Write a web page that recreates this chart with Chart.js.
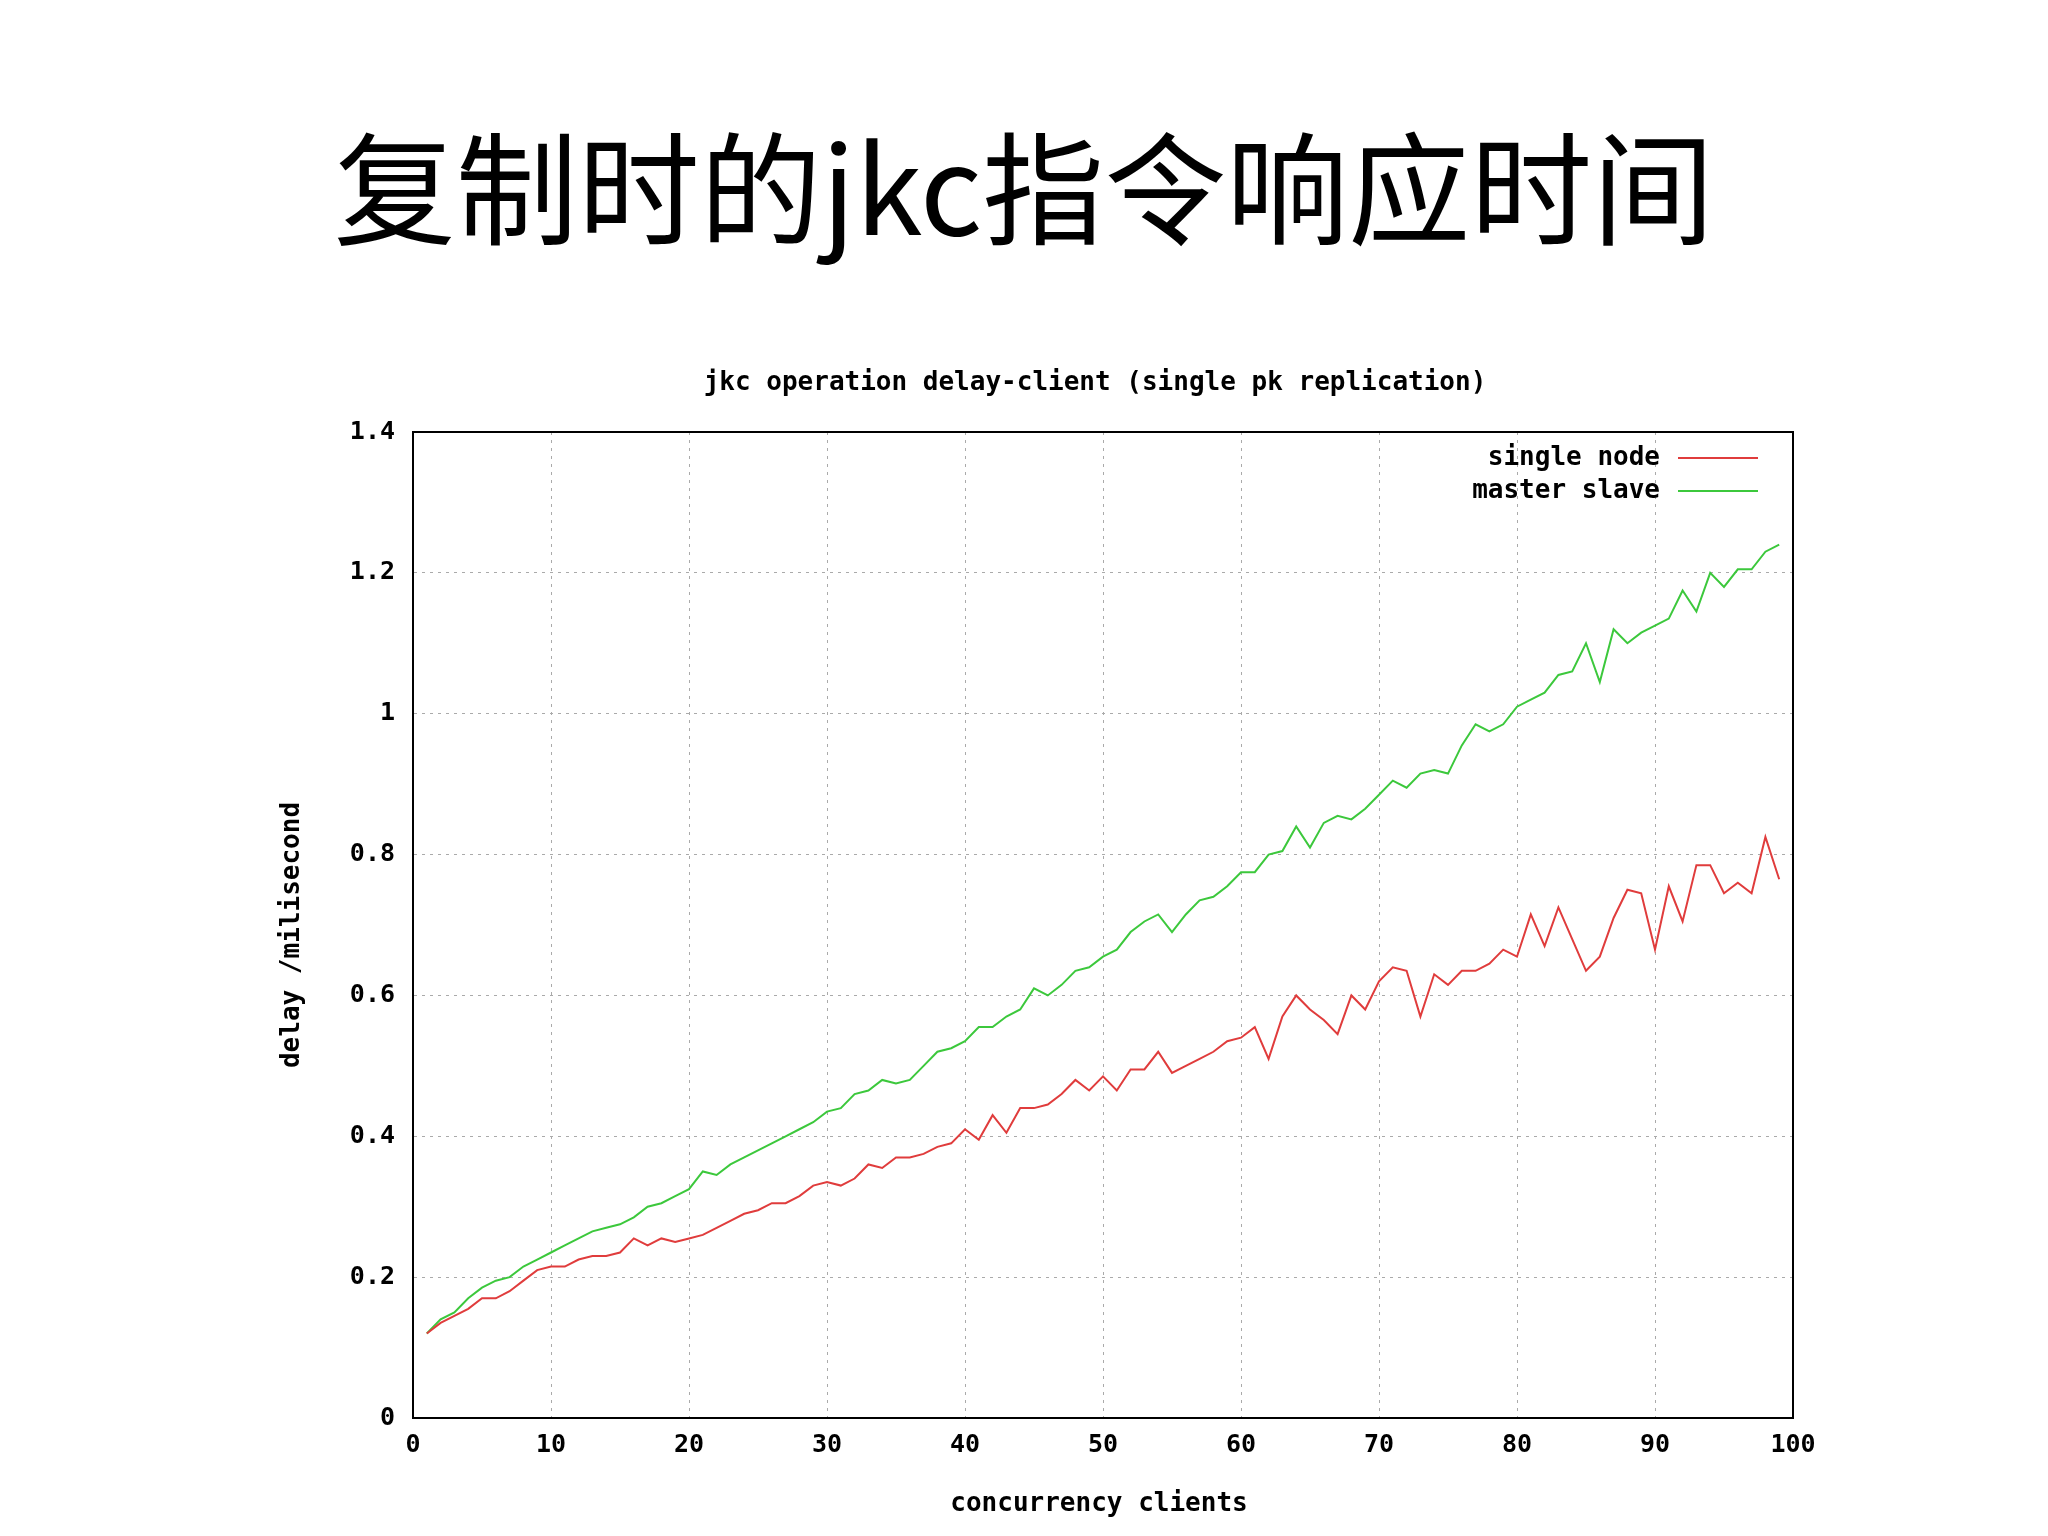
<!DOCTYPE html>
<html><head><meta charset="utf-8">
<script src="https://cdn.jsdelivr.net/npm/chart.js@4/dist/chart.umd.min.js"></script>
<style>
body{margin:0;background:#fff;width:2048px;height:1536px;overflow:hidden}
#ttl{position:absolute;top:93px;left:0;width:2048px;text-align:center;font-family:"Noto Sans CJK SC";font-size:122px;color:#000;z-index:2}
#c{position:absolute;left:0;top:0}
</style></head><body>
<div id="ttl">复制时的jkc指令响应时间</div>
<canvas id="c" width="2048" height="1536"></canvas>
<script>
const clients = [];
for (let i = 1; i <= 99; i++) clients.push(i);

const singleNode = [0.12,0.135,0.145,0.155,0.17,0.17,0.18,0.195,0.21,0.215,0.215,0.225,0.23,0.23,0.235,0.255,0.245,0.255,0.25,0.255,
0.26,0.27,0.28,0.29,0.295,0.305,0.305,0.315,0.33,0.335,0.33,0.34,0.36,0.355,0.37,0.37,0.375,0.385,0.39,0.41,
0.395,0.43,0.405,0.44,0.44,0.445,0.46,0.48,0.465,0.485,0.465,0.495,0.495,0.52,0.49,0.5,0.51,0.52,0.535,0.54,
0.555,0.51,0.57,0.6,0.58,0.565,0.545,0.6,0.58,0.62,0.64,0.635,0.57,0.63,0.615,0.635,0.635,0.645,0.665,0.655,
0.715,0.67,0.725,0.68,0.635,0.655,0.71,0.75,0.745,0.665,0.755,0.705,0.785,0.785,0.745,0.76,0.745,0.825,0.765];

const masterSlave = [0.12,0.14,0.15,0.17,0.185,0.195,0.2,0.215,0.225,0.235,0.245,0.255,0.265,0.27,0.275,0.285,0.3,0.305,0.315,0.325,
0.35,0.345,0.36,0.37,0.38,0.39,0.4,0.41,0.42,0.435,0.44,0.46,0.465,0.48,0.475,0.48,0.5,0.52,0.525,0.535,
0.555,0.555,0.57,0.58,0.61,0.6,0.615,0.635,0.64,0.655,0.665,0.69,0.705,0.715,0.69,0.715,0.735,0.74,0.755,0.775,
0.775,0.8,0.805,0.84,0.81,0.845,0.855,0.85,0.865,0.885,0.905,0.895,0.915,0.92,0.915,0.955,0.985,0.975,0.985,1.01,
1.02,1.03,1.055,1.06,1.1,1.045,1.12,1.1,1.115,1.125,1.135,1.175,1.145,1.2,1.18,1.205,1.205,1.23,1.24];

const chartTitle = "jkc operation delay-client (single pk replication)";
const xTitle = "concurrency clients";
const yTitle = "delay /milisecond";
const mono = '"DejaVu Sans Mono"';

// gnuplot-style frame, titles and legend
const gnuplotBits = {
  id: 'gnuplotBits',
  afterDraw(chart) {
    const {ctx, chartArea: a} = chart;
    ctx.save();
    ctx.strokeStyle = '#000';
    ctx.lineWidth = 2;
    ctx.strokeRect(a.left, a.top, a.right - a.left, a.bottom - a.top);
    ctx.fillStyle = '#000';
    ctx.font = 'bold 26px ' + mono;
    ctx.textAlign = 'center';
    ctx.textBaseline = 'middle';
    ctx.fillText(chartTitle, (a.left + a.right) / 2 - 8, 383);
    ctx.fillText(xTitle, (a.left + a.right) / 2 - 4, 1504);
    ctx.save();
    ctx.translate(292, (a.top + a.bottom) / 2 + 10);
    ctx.rotate(-Math.PI / 2);
    ctx.fillText(yTitle, 0, 0);
    ctx.restore();
    ctx.textAlign = 'right';
    chart.data.datasets.forEach((ds, i) => {
      const y = a.top + 26 + i * 33;
      ctx.fillStyle = '#000';
      ctx.fillText(ds.label, a.right - 133, y);
      ctx.strokeStyle = ds.borderColor;
      ctx.lineWidth = 2;
      ctx.beginPath();
      ctx.moveTo(a.right - 115, y);
      ctx.lineTo(a.right - 35, y);
      ctx.stroke();
    });
    ctx.restore();
  }
};

new Chart(document.getElementById('c'), {
  type: 'line',
  data: {
    labels: clients,
    datasets: [
      {label: 'single node', data: singleNode, borderColor: '#e03c3c', borderWidth: 2, pointRadius: 0, tension: 0},
      {label: 'master slave', data: masterSlave, borderColor: '#3cc83c', borderWidth: 2, pointRadius: 0, tension: 0}
    ]
  },
  plugins: [gnuplotBits],
  options: {
    responsive: false,
    animation: false,
    layout: {padding: {top: 432, right: 255, left: 0, bottom: 0}},
    plugins: {legend: {display: false}, title: {display: false}, tooltip: {enabled: false}},
    scales: {
      x: {
        type: 'linear', min: 0, max: 100,
        afterFit: s => { s.height = 118; },
        ticks: {stepSize: 10, color: '#000', font: {family: mono, size: 25, weight: 'bold'}, padding: 12},
        grid: {color: '#aaa', drawTicks: false},
        border: {display: true, color: '#000', dash: [3, 5]}
      },
      y: {
        min: 0, max: 1.4,
        afterFit: s => { s.width = 413; },
        ticks: {stepSize: 0.2, color: '#000', font: {family: mono, size: 25, weight: 'bold'}, padding: 18,
          callback: v => String(Math.round(v * 10) / 10)},
        grid: {color: '#aaa', drawTicks: false},
        border: {display: true, color: '#000', dash: [3, 5]}
      }
    }
  }
});
</script>
</body></html>
